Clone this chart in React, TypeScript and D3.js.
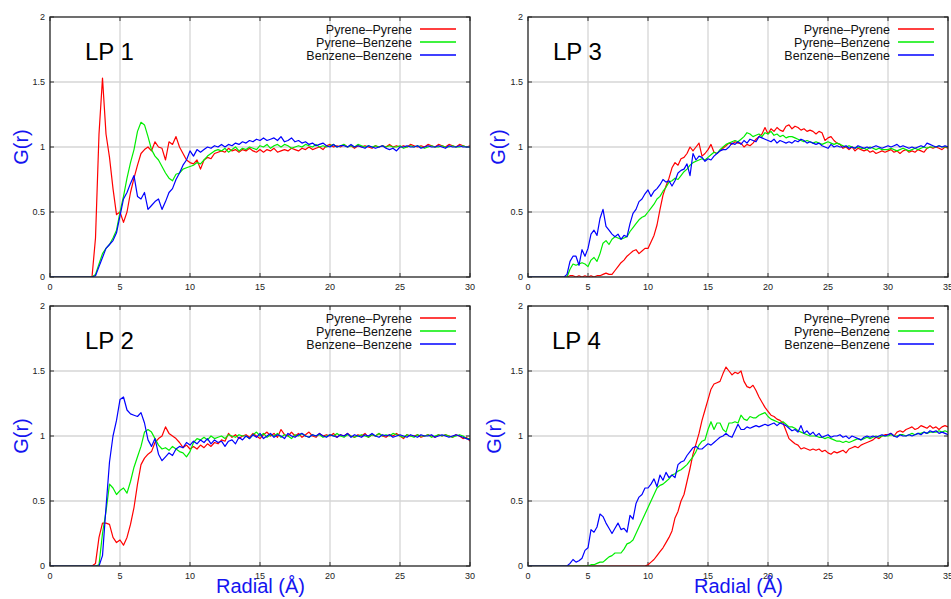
import React from "react";
import * as d3 from "d3";

// radial step of every series, in angstrom
const STEP = 0.25;

const seriesNames = ["Pyrene–Pyrene", "Pyrene–Benzene", "Benzene–Benzene"];
const seriesColors = ["#ff0000", "#00ee00", "#0000ff"];
const yTicks = [0, 0.5, 1, 1.5, 2];
const yTickLabels = ["0", "0.5", "1", "1.5", "2"];

// LP 1 (0..30 A)
const lp1PyrPyr = [
  0, 0, 0, 0, 0, 0, 0, 0,
  0, 0, 0, 0, 0, 0.3, 1.1, 1.53,
  1.1, 0.92, 0.68, 0.48, 0.5, 0.42, 0.5, 0.65,
  0.76, 0.86, 0.95, 0.98, 1.0, 0.97, 1.04, 1.0,
  0.99, 0.9, 1.04, 1.02, 1.08, 1.0, 0.95, 0.9,
  0.88, 0.87, 0.9, 0.83, 0.9, 0.92, 0.91, 0.95,
  0.96, 0.97, 0.96, 0.99, 0.97, 0.98, 0.96, 0.98,
  0.97, 0.99, 0.97, 0.96, 0.98, 0.96, 0.98, 0.97,
  0.99, 0.96, 0.97, 0.98, 0.97, 0.99, 0.98, 0.97,
  0.99, 0.98, 1.0, 0.98, 0.99, 1.0, 0.98, 1.01,
  1.02, 1.0, 1.01, 1.0, 1.02, 1.0, 1.01, 0.99,
  1.01, 1.0, 1.01, 1.0, 0.99, 1.01, 1.0, 1.01,
  1.0, 1.02, 1.0, 1.01, 1.0, 1.01, 1.0, 1.02,
  1.01, 1.0, 1.01, 1.0, 1.02, 1.01, 1.0, 1.02,
  1.01, 1.0, 1.02, 1.01, 1.0, 1.02, 1.01, 1.0,
  1.01,
];
const lp1PyrBen = [
  0, 0, 0, 0, 0, 0, 0, 0,
  0, 0, 0, 0, 0, 0.02, 0.1, 0.18,
  0.22, 0.25, 0.3, 0.36, 0.5, 0.62, 0.76, 0.88,
  0.98, 1.12, 1.19, 1.17, 1.08, 0.98, 0.93, 0.9,
  0.85, 0.8, 0.76, 0.74, 0.79, 0.8, 0.83, 0.84,
  0.85, 0.86, 0.88, 0.87, 0.9, 0.93, 0.95, 0.97,
  0.98, 0.97, 0.99, 0.96, 0.98, 1.0, 0.97, 0.99,
  0.98, 1.0, 0.99, 0.98, 1.01, 1.0, 1.02, 0.99,
  1.01, 1.02, 1.0, 1.02, 1.01, 0.99, 1.0, 1.01,
  1.0, 1.02, 1.01, 1.0, 1.02, 1.0, 1.01, 1.0,
  1.01, 1.02, 1.0, 1.01, 1.02, 1.0, 1.01, 1.0,
  1.02, 1.01, 1.0, 1.01, 1.0, 1.01, 1.0, 1.01,
  1.0, 1.01, 1.0, 1.0, 1.01, 0.99, 1.0, 1.01,
  1.0, 1.01, 1.0, 0.99, 1.0, 1.01, 1.0, 1.0,
  1.01, 1.0, 1.0, 1.01, 1.0, 1.0, 1.01, 1.0,
  1.0,
];
const lp1BenBen = [
  0, 0, 0, 0, 0, 0, 0, 0,
  0, 0, 0, 0, 0, 0.01, 0.08, 0.15,
  0.22, 0.25, 0.28, 0.34, 0.47, 0.6, 0.65, 0.72,
  0.78, 0.62, 0.6, 0.65, 0.52, 0.55, 0.58, 0.6,
  0.52, 0.58, 0.65, 0.68, 0.75, 0.8, 0.86, 0.9,
  0.97, 0.93, 0.98, 0.96, 0.98, 1.0, 0.99, 1.01,
  1.0, 1.02, 1.0, 1.02, 1.01, 1.03, 1.02, 1.04,
  1.03, 1.05, 1.04, 1.06, 1.05, 1.07, 1.05, 1.06,
  1.07, 1.05, 1.08, 1.04, 1.05, 1.07, 1.04, 1.05,
  1.03, 1.04, 1.02, 1.03, 1.01, 1.02, 1.03, 1.01,
  1.0, 1.02, 1.0, 1.01, 1.01, 1.0, 1.02, 1.0,
  1.01, 1.0, 0.99, 1.01, 1.0, 0.99, 1.0, 1.01,
  0.99, 0.98, 0.99, 0.97, 1.0, 1.0, 1.01, 1.0,
  1.0, 1.01, 0.99, 1.0, 1.01, 1.0, 1.0, 1.01,
  1.0, 0.99, 1.01, 1.0, 1.0, 1.01, 1.0, 1.0,
  1.0,
];

// LP 2 (0..30 A)
const lp2PyrPyr = [
  0, 0, 0, 0, 0, 0, 0, 0,
  0, 0, 0, 0, 0, 0.02, 0.22, 0.33,
  0.33, 0.32, 0.22, 0.18, 0.2, 0.16, 0.22, 0.32,
  0.45, 0.63, 0.78, 0.83, 0.86, 0.88, 0.95, 0.98,
  1.0, 1.07, 1.02, 1.0, 0.98, 0.95, 0.91, 0.93,
  0.9, 0.92, 0.9, 0.93, 0.91, 0.94, 0.92, 0.95,
  0.94, 0.97, 0.96, 1.02, 0.99, 1.01, 0.98, 1.0,
  1.01, 0.99, 1.02, 1.0, 0.98, 1.01, 1.03, 1.0,
  1.02, 0.99, 1.05, 1.01, 1.0, 1.03, 1.0, 1.02,
  0.99, 1.01, 1.03, 1.0, 0.99, 1.02, 1.0, 1.01,
  1.0, 1.02, 0.99, 1.01, 1.0, 1.02, 1.0, 0.99,
  1.01, 1.0, 1.02, 0.99, 1.01, 1.0, 1.02, 1.0,
  0.99, 1.01, 1.0, 1.02, 1.0, 0.98, 1.01, 1.0,
  1.0, 1.01, 0.99, 1.0, 1.01, 1.0, 0.99, 1.01,
  1.0, 1.01, 1.0, 0.99, 1.01, 1.0, 0.98, 0.99,
  0.96,
];
const lp2PyrBen = [
  0, 0, 0, 0, 0, 0, 0, 0,
  0, 0, 0, 0, 0, 0, 0.01, 0.25,
  0.42, 0.63, 0.6, 0.55, 0.58, 0.6, 0.56, 0.65,
  0.76, 0.84, 0.92, 1.03, 1.05, 1.03, 0.98, 0.93,
  0.9, 0.91, 0.89, 0.92, 0.9, 0.88, 0.87, 0.84,
  0.88, 0.95, 0.98, 0.97, 0.99, 0.97, 1.0, 0.98,
  0.99, 1.0, 0.98, 1.01, 1.0, 0.99, 1.01, 1.0,
  1.0, 0.98, 1.01, 1.03, 1.0, 1.02, 0.99, 1.01,
  1.0, 1.02, 0.99, 1.01, 1.0, 0.98, 1.01, 1.0,
  1.02, 1.0, 0.99, 1.01, 1.0, 1.01, 0.99, 1.0,
  1.01, 1.0, 1.02, 1.0, 0.99, 1.01, 1.0, 0.99,
  1.0, 1.01, 1.0, 0.99, 1.01, 1.0, 1.02, 1.0,
  1.01, 1.0, 1.02, 1.01, 1.0, 0.99, 1.01, 1.0,
  0.99, 1.01, 1.0, 1.0, 1.01, 0.99, 1.0, 1.01,
  1.0, 1.01, 1.0, 0.99, 1.0, 1.01, 1.0, 0.98,
  0.98,
];
const lp2BenBen = [
  0, 0, 0, 0, 0, 0, 0, 0,
  0, 0, 0, 0, 0, 0, 0, 0.08,
  0.45, 0.8, 1.0, 1.12, 1.28, 1.3, 1.2, 1.17,
  1.16, 1.15, 1.18, 1.1, 0.97, 0.92, 0.98, 0.86,
  0.81, 0.84, 0.87, 0.85, 0.9, 0.92, 0.91, 0.95,
  0.93, 0.96, 0.94, 0.97, 0.95, 0.98, 0.94, 0.97,
  0.95, 0.96, 0.92, 0.96, 0.97, 0.94, 0.99, 0.97,
  1.0, 0.98, 1.01, 0.99, 1.02, 0.98, 1.0, 1.02,
  0.99, 1.01, 1.0, 0.98, 1.02, 1.0, 0.99, 1.01,
  1.02, 1.0, 0.99, 1.01, 1.0, 1.02, 1.0, 0.99,
  1.01, 1.0, 0.99, 1.01, 1.0, 1.02, 0.99, 1.01,
  1.0, 0.99, 1.01, 1.0, 1.02, 1.0, 0.99, 1.01,
  1.0, 1.01, 0.99, 1.0, 1.01, 1.0, 0.99, 1.01,
  1.0, 0.99, 1.01, 1.0, 1.0, 1.01, 0.99, 1.0,
  1.01, 1.0, 0.99, 1.0, 1.01, 1.0, 0.99, 0.98,
  0.97,
];

// LP 3 (0..35 A)
const lp3PyrPyr = [
  0, 0, 0, 0, 0, 0, 0, 0,
  0, 0, 0, 0, 0, 0, 0.01, 0.01,
  0, 0.01, 0, 0.01, 0, 0.01, 0, 0.01,
  0.01, 0.02, 0.03, 0.02, 0.02, 0.05, 0.08, 0.11,
  0.13, 0.16, 0.18, 0.2, 0.21, 0.18, 0.2, 0.22,
  0.22, 0.27, 0.32, 0.4, 0.52, 0.63, 0.7, 0.76,
  0.84, 0.88, 0.86, 0.91, 0.92, 0.95, 1.0, 0.97,
  1.0, 1.03, 0.93, 0.95, 0.98, 1.02, 0.96, 0.95,
  0.97, 0.99, 1.01, 1.03, 1.02, 1.04, 1.03, 1.03,
  1.0, 1.02, 1.01, 1.03, 1.06, 1.08, 1.1, 1.15,
  1.1, 1.14, 1.12, 1.15, 1.13, 1.12, 1.16, 1.17,
  1.14, 1.16, 1.15, 1.13, 1.14, 1.12, 1.13, 1.12,
  1.1, 1.12, 1.11, 1.05, 1.07, 1.08, 1.05, 1.03,
  1.02, 0.99, 1.0, 0.98, 1.0, 0.97, 0.99, 0.98,
  0.97, 0.98, 0.96, 0.97, 0.95, 0.96, 0.97, 0.96,
  0.97, 0.98, 0.96, 0.97, 0.95, 0.97, 0.98, 0.96,
  0.97, 0.96, 0.98, 0.97, 0.96, 0.99, 1.0, 0.99,
  1.0, 0.99, 0.98, 1.0, 0.99,
];
const lp3PyrBen = [
  0, 0, 0, 0, 0, 0, 0, 0,
  0, 0, 0, 0, 0, 0, 0.06, 0.1,
  0.09, 0.1, 0.11, 0.1, 0.08, 0.13, 0.15, 0.12,
  0.18, 0.26, 0.28, 0.25, 0.29, 0.31, 0.3, 0.29,
  0.3, 0.31, 0.35, 0.38, 0.41, 0.44, 0.46, 0.47,
  0.5, 0.53, 0.56, 0.6, 0.62, 0.66, 0.69, 0.73,
  0.74, 0.76, 0.75, 0.78, 0.81, 0.83, 0.86, 0.88,
  0.89, 0.9, 0.91, 0.9, 0.92, 0.94, 0.96, 0.95,
  0.98, 1.0, 1.02, 1.03, 1.04, 1.05, 1.04, 1.06,
  1.08, 1.11, 1.1, 1.08, 1.09, 1.1, 1.08, 1.11,
  1.1, 1.12, 1.09, 1.1, 1.08, 1.09, 1.07, 1.08,
  1.08, 1.07, 1.06, 1.05, 1.04, 1.05, 1.04, 1.03,
  1.04, 1.03, 1.02, 1.03, 1.04, 1.03, 1.02, 1.03,
  1.02, 1.01, 1.0, 1.01, 1.0, 0.99, 1.0, 0.99,
  0.99, 0.98, 1.0, 0.99, 0.98, 0.99, 0.98, 0.98,
  0.98, 0.99, 0.98, 0.97, 0.98, 0.99, 0.98, 0.97,
  0.98, 0.99, 0.98, 0.99, 1.0, 0.99, 1.0, 1.0,
  1.0, 1.01, 1.0, 1.0, 1.0,
];
const lp3BenBen = [
  0, 0, 0, 0, 0, 0, 0, 0,
  0, 0, 0, 0, 0, 0.02, 0.12, 0.16,
  0.16, 0.09, 0.21, 0.16, 0.22, 0.33, 0.36, 0.32,
  0.45, 0.52, 0.39, 0.36, 0.33, 0.31, 0.33, 0.29,
  0.32, 0.31, 0.41, 0.49, 0.52, 0.58, 0.6, 0.64,
  0.67, 0.62, 0.66, 0.68, 0.71, 0.75, 0.73, 0.74,
  0.7, 0.74, 0.8, 0.82, 0.83, 0.87, 0.78, 0.95,
  0.9, 0.93, 0.92, 0.89, 0.91, 0.9, 0.93, 0.95,
  0.97, 0.98, 0.98, 1.0, 1.03, 1.02, 1.04, 1.02,
  1.05, 1.03, 1.06, 1.05, 1.04, 1.08, 1.07, 1.06,
  1.05, 1.04, 1.06, 1.03, 1.05, 1.04, 1.03, 1.04,
  1.03, 1.05, 1.04, 1.06, 1.05, 1.03, 1.04, 1.03,
  1.02, 1.03, 1.01, 1.0, 0.99, 1.02, 1.0, 1.01,
  1.0, 1.0, 1.01, 0.99, 1.0, 0.99, 1.01, 1.0,
  0.99, 1.0, 0.99, 1.0, 1.01, 1.0, 0.99, 1.0,
  1.01, 1.0, 1.01, 1.02, 1.0, 1.01, 1.0, 0.99,
  1.0, 0.99, 1.0, 1.01, 1.0, 1.03, 1.02, 1.01,
  1.0, 1.01, 1.0, 1.01, 1.0,
];

// LP 4 (0..35 A)
const lp4PyrPyr = [
  0, 0, 0, 0, 0, 0, 0, 0,
  0, 0, 0, 0, 0, 0, 0, 0,
  0, 0, 0, 0, 0, 0, 0, 0,
  0, 0, 0, 0, 0, 0, 0, 0,
  0, 0, 0, 0, 0, 0, 0, 0,
  0.01, 0.03, 0.05, 0.08, 0.11, 0.14, 0.18, 0.22,
  0.27, 0.37, 0.42, 0.5, 0.55, 0.65, 0.75, 0.86,
  0.94, 1.02, 1.12, 1.2, 1.28, 1.36, 1.4, 1.41,
  1.42, 1.48, 1.53, 1.5, 1.47, 1.49, 1.48, 1.5,
  1.42, 1.38, 1.37, 1.39, 1.35, 1.3, 1.26, 1.22,
  1.19, 1.16, 1.15, 1.13, 1.12, 1.1, 1.04, 0.98,
  0.96, 0.94, 0.93, 0.9, 0.91, 0.9, 0.89, 0.9,
  0.89, 0.9, 0.88, 0.89, 0.87, 0.86, 0.88, 0.87,
  0.88, 0.89, 0.87, 0.9, 0.91, 0.92, 0.91, 0.93,
  0.94, 0.95, 0.96, 0.97, 0.99, 0.98, 1.0, 1.01,
  1.01, 1.02, 1.0, 1.03, 1.04, 1.03, 1.05, 1.06,
  1.07, 1.05, 1.06, 1.08, 1.07, 1.06, 1.08, 1.06,
  1.07, 1.05, 1.07, 1.08, 1.07,
];
const lp4PyrBen = [
  0, 0, 0, 0, 0, 0, 0, 0,
  0, 0, 0, 0, 0, 0, 0, 0,
  0, 0, 0, 0, 0, 0.01, 0.01, 0.02,
  0.03, 0.03, 0.05, 0.07, 0.08, 0.1, 0.1, 0.1,
  0.13, 0.17, 0.18, 0.2, 0.25, 0.3, 0.35, 0.4,
  0.45, 0.5, 0.55, 0.6, 0.62, 0.63, 0.65, 0.67,
  0.7, 0.71, 0.73, 0.74, 0.76, 0.78, 0.81, 0.84,
  0.88, 0.93, 0.96, 0.97, 1.05, 1.11, 1.05, 1.1,
  1.1, 1.05, 1.03, 1.1, 1.1, 1.11, 1.1, 1.16,
  1.13, 1.12, 1.15, 1.14, 1.14, 1.16, 1.17, 1.18,
  1.15, 1.13, 1.12, 1.11, 1.1, 1.11, 1.09, 1.07,
  1.07, 1.06, 1.04, 1.03, 1.02, 1.01, 1.0, 1.0,
  1.0, 0.99, 0.99, 0.98, 0.99, 0.98, 0.97, 0.96,
  0.96, 0.95, 0.96, 0.95, 0.96, 0.97, 0.98, 0.97,
  0.98, 0.99, 0.98, 0.99, 1.0, 0.99, 1.0, 1.0,
  1.0, 1.01, 1.0, 1.0, 1.01, 1.01, 1.0, 1.01,
  1.02, 1.01, 1.02, 1.02, 1.03, 1.02, 1.03, 1.03,
  1.03, 1.04, 1.03, 1.04, 1.03,
];
const lp4BenBen = [
  0, 0, 0, 0, 0, 0, 0, 0,
  0, 0, 0, 0, 0, 0, 0.02, 0.05,
  0.03, 0.04, 0.06, 0.12, 0.14, 0.28, 0.26, 0.3,
  0.4, 0.38, 0.33, 0.29, 0.25, 0.29, 0.33, 0.28,
  0.29, 0.26, 0.39, 0.36, 0.48, 0.53, 0.55, 0.6,
  0.6, 0.63, 0.67, 0.61, 0.7, 0.66, 0.72, 0.68,
  0.7, 0.68, 0.78, 0.8, 0.81, 0.85, 0.88, 0.91,
  0.92, 0.9, 0.9, 0.92, 0.94, 0.93, 0.95, 0.97,
  0.99, 1.0, 1.02, 1.0, 0.99, 1.04, 1.09, 1.05,
  1.05, 1.07, 1.06, 1.07, 1.08, 1.07, 1.08, 1.09,
  1.08, 1.09, 1.1, 1.08, 1.1, 1.09, 1.08, 1.06,
  1.04, 1.05, 1.03, 1.08, 1.02, 1.04, 1.01, 1.03,
  1.0, 1.02, 0.99, 1.0, 1.01, 0.99, 1.0, 1.0,
  1.01, 0.99, 1.0, 0.98, 1.0, 0.99, 0.98, 0.97,
  0.99, 1.0, 0.99, 1.0, 0.99, 1.0, 1.01, 1.0,
  1.01, 1.02, 1.0, 0.99, 1.01, 1.0, 1.0, 1.01,
  1.0, 1.01, 1.02, 1.01, 1.03, 1.02, 1.04, 1.03,
  1.04, 1.02, 1.03, 1.02, 1.01,
];

const FONT = "'Liberation Sans', Arial, Helvetica, sans-serif";
const LABEL_BLUE = "#1515f0";

const panels = [
  { id: "lp1", title: "LP 1", xMax: 30, series: [lp1PyrPyr, lp1PyrBen, lp1BenBen] },
  { id: "lp3", title: "LP 3", xMax: 35, series: [lp3PyrPyr, lp3PyrBen, lp3BenBen] },
  { id: "lp2", title: "LP 2", xMax: 30, series: [lp2PyrPyr, lp2PyrBen, lp2BenBen] },
  { id: "lp4", title: "LP 4", xMax: 35, series: [lp4PyrPyr, lp4PyrBen, lp4BenBen] },
];

// pixel layout of each panel (same order as panels)
const layouts = [
  { left: 50, right: 470, top: 17, bottom: 277, titleX: 85, gx: 21, xLabel: false },
  { left: 528, right: 948, top: 17, bottom: 277, titleX: 553, gx: 498, xLabel: false },
  { left: 50, right: 470, top: 306, bottom: 566, titleX: 85, gx: 21, xLabel: true },
  { left: 528, right: 948, top: 306, bottom: 566, titleX: 552, gx: 494, xLabel: true },
];

function Panel({ panel, lay }) {
  const x = d3.scaleLinear().domain([0, panel.xMax]).range([lay.left, lay.right]);
  const y = d3.scaleLinear().domain([0, 2]).range([lay.bottom, lay.top]);
  const xTicks = d3.range(0, panel.xMax + 0.001, 5);
  const line = d3
    .line<number>()
    .x((_, i) => x(i * STEP))
    .y((d) => y(d));
  const clipId = `clip-${panel.id}`;
  const midY = (lay.top + lay.bottom) / 2;

  return (
    <g>
      <defs>
        <clipPath id={clipId}>
          <rect x={lay.left} y={lay.top} width={lay.right - lay.left} height={lay.bottom - lay.top} />
        </clipPath>
      </defs>

      {/* grid */}
      {xTicks.slice(1, -1).map((t) => (
        <line key={`gx${t}`} x1={x(t)} x2={x(t)} y1={lay.top} y2={lay.bottom} stroke="#d6d6d6" strokeWidth={1.3} />
      ))}
      {yTicks.slice(1, -1).map((t) => (
        <line key={`gy${t}`} x1={lay.left} x2={lay.right} y1={y(t)} y2={y(t)} stroke="#d6d6d6" strokeWidth={1.3} />
      ))}

      {/* tick marks */}
      {xTicks.map((t) => (
        <g key={`tx${t}`} stroke="#333" strokeWidth={1}>
          <line x1={x(t)} x2={x(t)} y1={lay.bottom} y2={lay.bottom - 4} />
          <line x1={x(t)} x2={x(t)} y1={lay.top} y2={lay.top + 4} />
        </g>
      ))}
      {yTicks.map((t) => (
        <g key={`ty${t}`} stroke="#333" strokeWidth={1}>
          <line x1={lay.left} x2={lay.left + 4} y1={y(t)} y2={y(t)} />
          <line x1={lay.right} x2={lay.right - 4} y1={y(t)} y2={y(t)} />
        </g>
      ))}

      {/* tick labels */}
      {xTicks.map((t) => (
        <text key={`lx${t}`} x={x(t)} y={lay.bottom + 13} fontSize={9} fill="#222" textAnchor="middle" fontFamily={FONT}>
          {t}
        </text>
      ))}
      {yTicks.map((t, i) => (
        <text key={`ly${t}`} x={lay.left - 5} y={y(t) + 3} fontSize={9} fill="#222" textAnchor="end" fontFamily={FONT}>
          {yTickLabels[i]}
        </text>
      ))}

      {/* curves */}
      <g clipPath={`url(#${clipId})`}>
        {panel.series.map((s, i) => (
          <path key={i} d={line(s) || ""} fill="none" stroke={seriesColors[i]} strokeWidth={1.2} strokeLinejoin="round" />
        ))}
      </g>

      {/* frame */}
      <rect x={lay.left} y={lay.top} width={lay.right - lay.left} height={lay.bottom - lay.top} fill="none" stroke="#222" strokeWidth={1.3} />

      {/* legend */}
      {seriesNames.map((name, i) => {
        const ry = lay.top + 12 + i * 13;
        return (
          <g key={name}>
            <text x={lay.right - 58} y={ry + 4.5} fontSize={12.5} textAnchor="end" fill="#111" fontFamily={FONT}>
              {name}
            </text>
            <line x1={lay.right - 50} x2={lay.right - 14} y1={ry} y2={ry} stroke={seriesColors[i]} strokeWidth={1.3} />
          </g>
        );
      })}

      {/* panel title */}
      <text x={lay.titleX} y={lay.top + 43} fontSize={24} fill="#000" fontFamily={FONT}>
        {panel.title}
      </text>

      {/* axis labels */}
      <text
        transform={`translate(${lay.gx},${midY}) rotate(-90)`}
        textAnchor="middle"
        dominantBaseline="central"
        fontSize={20}
        fill={LABEL_BLUE}
        fontFamily={FONT}
      >
        G(r)
      </text>
      {lay.xLabel && (
        <text x={(lay.left + lay.right) / 2 + 0.5} y={lay.bottom + 27} textAnchor="middle" fontSize={20} fill={LABEL_BLUE} fontFamily={FONT}>
          Radial (Å)
        </text>
      )}
    </g>
  );
}

export default function App() {
  return (
    <svg width={951} height={599} style={{ position: "absolute", left: 0, top: 0, background: "#fff" }}>
      <rect width={951} height={599} fill="#fff" />
      {panels.map((p, i) => (
        <Panel key={p.id} panel={p} lay={layouts[i]} />
      ))}
    </svg>
  );
}
